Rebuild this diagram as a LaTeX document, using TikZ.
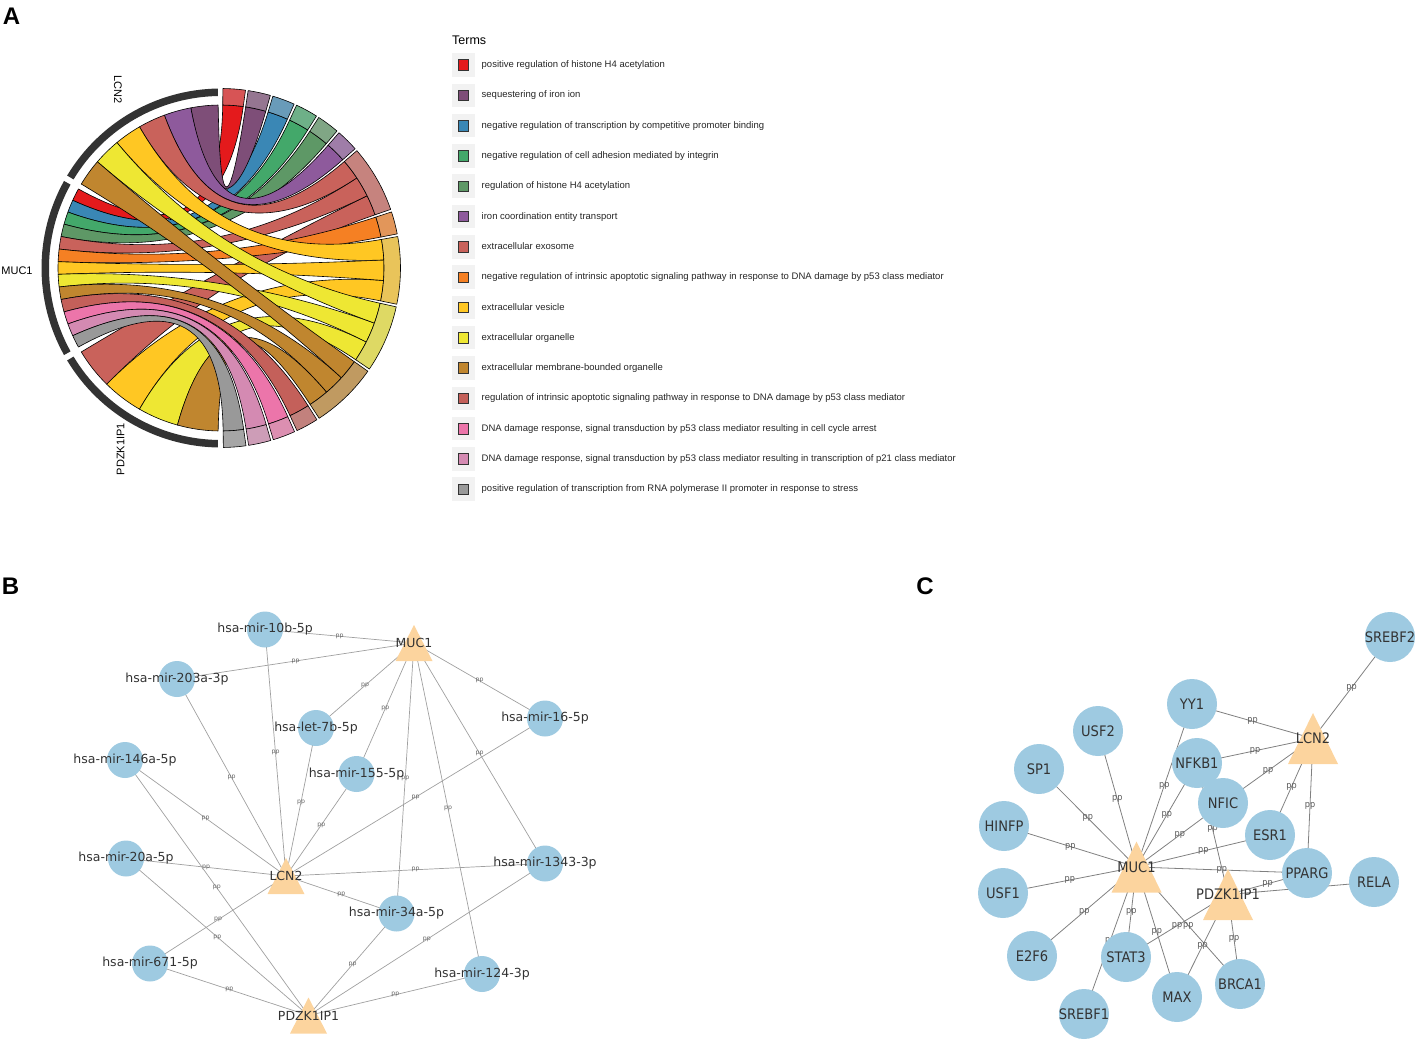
\documentclass[tikz,border=0pt]{standalone}
\usepackage{fontspec}
\setmainfont{Liberation Sans}
\newfontfamily\netfont{DejaVu Sans}
\newfontfamily\netfontc[FakeStretch=0.9]{DejaVu Sans}
\usetikzlibrary{positioning}

% term colours
\definecolor{goRed}{HTML}{E41A1C}
\definecolor{goSeq}{HTML}{7E4E78}
\definecolor{goBlue}{HTML}{3A87B5}
\definecolor{goGreen}{HTML}{43A86A}
\definecolor{goDkGreen}{HTML}{5E9866}
\definecolor{goPurple}{HTML}{8E5A9C}
\definecolor{goExo}{HTML}{C9625B}
\definecolor{goOrange}{HTML}{F58023}
\definecolor{goVes}{HTML}{FFC723}
\definecolor{goOrg}{HTML}{EEE733}
\definecolor{goMem}{HTML}{C0862F}
\definecolor{goRegInt}{HTML}{C4605A}
\definecolor{goPink}{HTML}{EC75AA}
\definecolor{goLPink}{HTML}{D48AB2}
\definecolor{goGray}{HTML}{999999}
\definecolor{genegray}{HTML}{333333}
\definecolor{nodeblue}{HTML}{9ECAE1}
\definecolor{peach}{HTML}{FCD49E}
\definecolor{linegray}{HTML}{A0A0A0}
\definecolor{txtgray}{HTML}{333333}

\pgfdeclarelayer{background}
\pgfsetlayers{background,main}

\newcommand{\goribbon}[5]{%
  \filldraw[ribbon, fill=#5] (#1:163pt) arc[start angle=#1, end angle=#2, radius=163pt]
    .. controls (#2:54.3pt) and (#3:54.3pt) .. (#3:163pt)
    arc[start angle=#3, end angle=#4, radius=163pt]
    .. controls (#4:54.3pt) and (#1:54.3pt) .. (#1:163pt) -- cycle;}

\begin{document}
\begin{tikzpicture}[x=1pt, y=-1pt,
	ribbon/.style={draw=black, line width=0.6pt, line join=round},
	termband/.style={draw=black, line width=0.6pt, line join=round},
	genelab/.style={font=\fontsize{11}{13}\selectfont, inner sep=0pt},
	panel/.style={font=\bfseries\fontsize{24}{26}\selectfont, inner sep=0pt},
	keybg/.style={rectangle, fill=gray!10, minimum size=23.5pt, inner sep=0pt},
	keysq/.style={rectangle, draw=black!80, line width=0.6pt, minimum size=10.5pt, inner sep=0pt},
	keytxt/.style={anchor=mid west, inner sep=0pt, font=\fontsize{9.5}{11}\selectfont, text=black!85},
	mirna/.style={circle, fill=nodeblue, minimum size=36pt, inner sep=0pt},
	btri/.style={rectangle, inner sep=0pt, minimum width=37pt, minimum height=36pt,
		path picture={\fill[peach] (path picture bounding box.north) -- (path picture bounding box.south west) -- (path picture bounding box.south east) -- cycle;}},
	blab/.style={font=\netfont\fontsize{12.5}{14}\selectfont, text=txtgray, inner sep=0pt},
	bline/.style={draw=linegray, line width=0.7pt},
	bpp/.style={font=\netfont\fontsize{6.2}{7}\selectfont, text=black!60, inner sep=0pt},
	tfnode/.style={circle, fill=nodeblue, minimum size=50pt, inner sep=0pt},
	ctri/.style={rectangle, inner sep=0pt, minimum width=50pt, minimum height=51pt,
		path picture={\fill[peach] (path picture bounding box.north) -- (path picture bounding box.south west) -- (path picture bounding box.south east) -- cycle;}},
	clab/.style={font=\netfontc\fontsize{14.5}{16}\selectfont, text=txtgray, inner sep=0pt},
	cline/.style={draw=black!50, line width=0.8pt},
	cpp/.style={font=\netfontc\fontsize{9}{10}\selectfont, text=black!65, inner sep=0pt}]
	\useasboundingbox (0,0) rectangle (1417,1041);

	\node[panel] (pA) at (11.5,16) {A};
	\node[panel] (pB) at (10.5,586) {B};
	\node[panel] (pC) at (925,586) {C};

	% chord diagram
	\begin{scope}[shift={(221,268)}]
		\foreach \ga/\gb/\ta/\tb/\col in {
			211/225.5/19.05/26.3/goExo, 225.5/240/-11.65/-4.4/goVes,
			240/254.5/-34.25/-27/goOrg, 254.5/269/-56.85/-49.6/goMem,
			151/155.46/82.15/89.4/goRed, 155.46/159.92/65.95/73.2/goBlue,
			159.92/164.38/57.85/65.1/goGreen, 164.38/168.85/49.75/57/goDkGreen,
			168.85/173.31/26.3/33.55/goExo, 173.31/177.77/10.95/18.2/goOrange,
			177.77/182.23/-4.4/2.85/goVes, 182.23/186.69/-27/-19.75/goOrg,
			186.69/191.15/-49.6/-42.35/goMem, 191.15/195.62/-64.95/-57.7/goRegInt,
			195.62/200.08/-73.05/-65.8/goPink, 200.08/204.54/-81.15/-73.9/goLPink,
			204.54/209/-89.25/-82/goGray,
			91/100.67/74.05/81.3/goSeq, 100.67/110.33/41.65/48.9/goPurple,
			110.33/120/33.55/40.8/goExo, 120/129.67/2.85/10.1/goVes,
			129.67/139.33/-19.75/-12.5/goOrg, 139.33/149/-42.35/-35.1/goMem}
			{\goribbon{\ga}{\gb}{\ta}{\tb}{\col}}
		% term segments
		\foreach \ta/\tb/\col in {82.15/89.4/goRed, 74.05/81.3/goSeq, 65.95/73.2/goBlue,
			57.85/65.1/goGreen, 49.75/57/goDkGreen, 41.65/48.9/goPurple, 19.05/40.8/goExo,
			10.95/18.2/goOrange, -11.65/10.1/goVes, -34.25/-12.5/goOrg, -56.85/-35.1/goMem,
			-64.95/-57.7/goRegInt, -73.05/-65.8/goPink, -81.15/-73.9/goLPink, -89.25/-82/goGray}
			{\filldraw[termband, fill=\col!65!lightgray] (\ta:163pt) arc[start angle=\ta, end angle=\tb, radius=163pt]
				-- (\tb:179.5pt) arc[start angle=\tb, end angle=\ta, radius=179.5pt] -- cycle;}
		% gene segments
		\foreach \ga/\gb in {91/149, 151/209, 211/269}
			{\fill[genegray] (\ga:172pt) arc[start angle=\ga, end angle=\gb, radius=172pt]
				-- (\gb:179.5pt) arc[start angle=\gb, end angle=\ga, radius=179.5pt] -- cycle;}
		\node[genelab, rotate=-90] (glcn2) at (120:206pt) {LCN2};
		\node[genelab] (gmuc1) at (180.8:204pt) {MUC1};
		\node[genelab, rotate=90] (gpdz) at (241:207pt) {PDZK1IP1};
	\end{scope}

	% legend
	\node[anchor=west, inner sep=0pt, font=\fontsize{12.5}{14}\selectfont] (terms) at (452,40.7) {Terms};
	\foreach \col/\txt [count=\i from 0] in {
		goRed/positive regulation of histone H4 acetylation,
		goSeq/sequestering of iron ion,
		goBlue/negative regulation of transcription by competitive promoter binding,
		goGreen/negative regulation of cell adhesion mediated by integrin,
		goDkGreen/regulation of histone H4 acetylation,
		goPurple/iron coordination entity transport,
		goExo/extracellular exosome,
		goOrange/negative regulation of intrinsic apoptotic signaling pathway in response to DNA damage by p53 class mediator,
		goVes/extracellular vesicle,
		goOrg/extracellular organelle,
		goMem/extracellular membrane-bounded organelle,
		goRegInt/regulation of intrinsic apoptotic signaling pathway in response to DNA damage by p53 class mediator,
		goPink/{DNA damage response, signal transduction by p53 class mediator resulting in cell cycle arrest},
		goLPink/{DNA damage response, signal transduction by p53 class mediator resulting in transcription of p21 class mediator},
		goGray/positive regulation of transcription from RNA polymerase II promoter in response to stress} {
		\node[keybg] (bg\i) at (463.5,{65+30.3*\i}) {};
		\node[keysq, fill=\col] (sq\i) at (bg\i) {};
		\node[keytxt] (tx\i) at (481.5,{65+30.3*\i}) {\txt};
	}

	% network B
	\node[mirna, label={[blab]center:hsa-mir-10b-5p}] (b10b) at (265,629.5) {};
	\node[btri, label={[blab]center:MUC1}] (bMUC1) at (414,643) {};
	\node[mirna, label={[blab]center:hsa-mir-203a-3p}] (b203a) at (177,679) {};
	\node[mirna, label={[blab]center:hsa-let-7b-5p}] (blet7b) at (316,728) {};
	\node[mirna, label={[blab]center:hsa-mir-16-5p}] (b16) at (545,718.5) {};
	\node[mirna, label={[blab]center:hsa-mir-146a-5p}] (b146a) at (125,760) {};
	\node[mirna, label={[blab]center:hsa-mir-155-5p}] (b155) at (356.5,774) {};
	\node[mirna, label={[blab]center:hsa-mir-20a-5p}] (b20a) at (126,858.5) {};
	\node[btri, label={[blab]center:LCN2}] (bLCN2) at (286,876) {};
	\node[mirna, label={[blab]center:hsa-mir-1343-3p}] (b1343) at (545,863.5) {};
	\node[mirna, label={[blab]center:hsa-mir-34a-5p}] (b34a) at (396.5,913.5) {};
	\node[mirna, label={[blab]center:hsa-mir-671-5p}] (b671) at (150,963.5) {};
	\node[mirna, label={[blab]center:hsa-mir-124-3p}] (b124) at (482,974) {};
	\node[btri, label={[blab]center:PDZK1IP1}] (bPDZ) at (308.5,1015.5) {};
	\begin{pgfonlayer}{background}
		\foreach \u/\v in {bMUC1/b10b, bMUC1/b203a, bMUC1/blet7b, bMUC1/b155, bMUC1/b34a,
			bMUC1/b124, bMUC1/b1343, bMUC1/b16,
			bLCN2/b10b, bLCN2/b203a, bLCN2/blet7b, bLCN2/b155, bLCN2/b16, bLCN2/b146a,
			bLCN2/b20a, bLCN2/b1343, bLCN2/b34a, bLCN2/b671,
			bPDZ/b146a, bPDZ/b20a, bPDZ/b671, bPDZ/b34a, bPDZ/b1343, bPDZ/b124}
			\draw[bline] (\u.center) -- node[bpp] {pp} (\v.center);
	\end{pgfonlayer}

	% network C
	\node[tfnode, label={[clab]center:SREBF2}] (cSREBF2) at (1390,637) {};
	\node[tfnode, label={[clab]center:YY1}] (cYY1) at (1192,704) {};
	\node[ctri, label={[clab]center:LCN2}] (cLCN2) at (1313,738.5) {};
	\node[tfnode, label={[clab]center:USF2}] (cUSF2) at (1098,731) {};
	\node[tfnode, label={[clab]center:NFKB1}] (cNFKB1) at (1197,763) {};
	\node[tfnode, label={[clab]center:SP1}] (cSP1) at (1039,769) {};
	\node[tfnode, label={[clab]center:NFIC}] (cNFIC) at (1223,803) {};
	\node[tfnode, label={[clab]center:HINFP}] (cHINFP) at (1004,826) {};
	\node[tfnode, label={[clab]center:ESR1}] (cESR1) at (1270,835) {};
	\node[ctri, label={[clab]center:MUC1}] (cMUC1) at (1136.5,867) {};
	\node[tfnode, label={[clab]center:PPARG}] (cPPARG) at (1307,873) {};
	\node[tfnode, label={[clab]center:RELA}] (cRELA) at (1374,882) {};
	\node[tfnode, label={[clab]center:USF1}] (cUSF1) at (1003,893) {};
	\node[ctri, label={[clab]center:PDZK1IP1}] (cPDZ) at (1228,894.5) {};
	\node[tfnode, label={[clab]center:E2F6}] (cE2F6) at (1032,956) {};
	\node[tfnode, label={[clab]center:STAT3}] (cSTAT3) at (1126,957) {};
	\node[tfnode, label={[clab]center:MAX}] (cMAX) at (1177,997) {};
	\node[tfnode, label={[clab]center:BRCA1}] (cBRCA1) at (1240,984) {};
	\node[tfnode, label={[clab]center:SREBF1}] (cSREBF1) at (1084,1014) {};
	\begin{pgfonlayer}{background}
		\foreach \u/\v in {cLCN2/cSREBF2, cLCN2/cYY1, cLCN2/cNFKB1, cLCN2/cNFIC, cLCN2/cESR1, cLCN2/cPPARG,
			cMUC1/cUSF2, cMUC1/cSP1, cMUC1/cHINFP, cMUC1/cUSF1, cMUC1/cE2F6, cMUC1/cYY1,
			cMUC1/cNFKB1, cMUC1/cNFIC, cMUC1/cESR1, cMUC1/cPPARG, cMUC1/cSTAT3, cMUC1/cSREBF1,
			cMUC1/cMAX, cMUC1/cBRCA1,
			cPDZ/cNFKB1, cPDZ/cPPARG, cPDZ/cRELA, cPDZ/cSTAT3, cPDZ/cMAX, cPDZ/cBRCA1}
			\draw[cline] (\u.center) -- node[cpp] {pp} (\v.center);
	\end{pgfonlayer}
\end{tikzpicture}
\end{document}
